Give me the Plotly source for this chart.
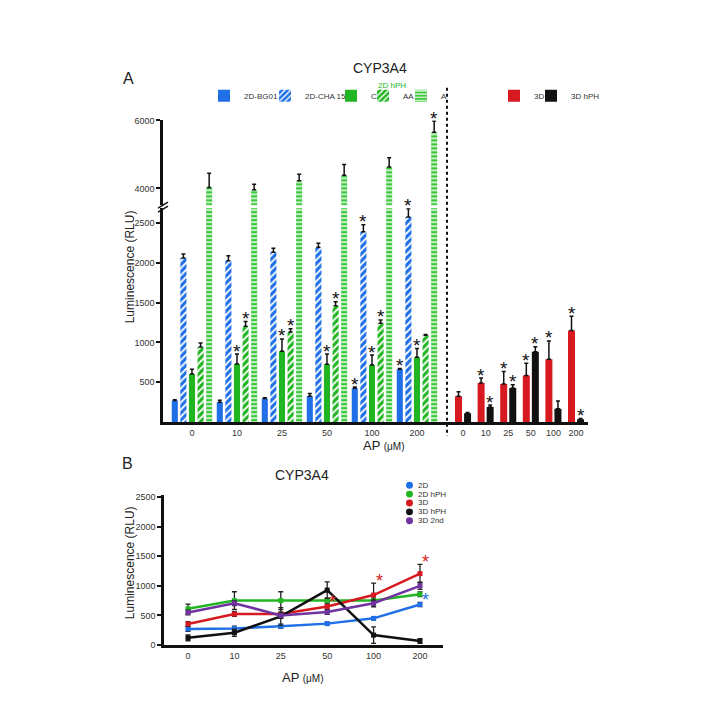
import plotly.graph_objects as go

W = 720.0
def px(x):
    return x / W
def py(y):
    return 1 - y / W

FONT = "Arial, Liberation Sans, sans-serif"
doses = ["0", "10", "25", "50", "100", "200"]

# ---------- Panel A : 2D cultures ----------
bg01 = [270, 251, 297, 326, 425, 664]
bg01_err = [10, 25, 8, 33, 15, 8]
bg01_sig = [0, 0, 0, 0, 1, 1]
cha15 = [2060, 2026, 2133, 2194, 2389, 2574]
cha15_err = [50, 62, 49, 50, 90, 103]
cha15_sig = [0, 0, 0, 0, 1, 1]
hph_c = [603, 730, 891, 726, 718, 813]
hph_c_err = [62, 124, 153, 128, 124, 111]
hph_c_sig = [0, 1, 1, 1, 1, 1]
hph_aa = [944, 1204, 1130, 1460, 1242, 1089]
hph_aa_err = [50, 58, 42, 50, 41, 10]
hph_aa_sig = [0, 1, 1, 1, 1, 0]
hph_a = [4030, 3962, 4223, 4386, 4629, 5652]
hph_a_err = [414, 163, 193, 319, 270, 328]
hph_a_sig = [0, 0, 0, 0, 0, 1]

# ---------- Panel A : 3D cultures ----------
d3 = [326, 491, 479, 586, 788, 1151]
d3_err = [54, 62, 156, 153, 231, 177]
d3_sig = [0, 1, 1, 1, 1, 1]
d3hph = [111, 190, 429, 883, 169, 37]
d3hph_err = [10, 24, 41, 62, 95, 10]
d3hph_sig = [0, 1, 1, 1, 0, 1]

# ---------- Panel B ----------
b_2d = [272, 278, 317, 361, 450, 683]
b_2d_err = [40, 40, 35, 25, 25, 35]
b_2dhph = [611, 750, 750, 750, 750, 856]
b_2dhph_err = [80, 150, 150, 40, 40, 40]
b_3d = [356, 522, 522, 650, 844, 1206]
b_3d_err = [40, 40, 30, 40, 200, 155]
b_3dhph = [122, 206, 483, 928, 167, 67]
b_3dhph_err = [50, 60, 150, 140, 140, 40]
b_3d2nd = [550, 706, 500, 556, 706, 1000]
b_3d2nd_err = [40, 40, 50, 40, 50, 60]
b_sig = {"2D": [0, 0, 0, 0, 0, 1], "3D": [0, 0, 0, 1, 1, 1]}

BLUE = "#1f6fe6"
GREEN = "#22b522"
LGREEN = "#3cc83c"
RED = "#d71920"
BLACK = "#111111"
PURPLE = "#7033a0"

fig = go.Figure()
annotations = []
legend_layout = {}

def add_legend(idx, x_sym):
    key = "legend" if idx == 1 else "legend%d" % idx
    legend_layout[key] = dict(orientation="h", x=px(x_sym - 20), y=py(92),
                              xanchor="left", yanchor="middle",
                              font=dict(size=8, color="#333", family=FONT),
                              bgcolor="rgba(0,0,0,0)", borderwidth=0)
    return key

# left group: 5 bars
left_series = [
    ("2D-BG01", bg01, bg01_err, bg01_sig, BLUE, "", 224),
    ("2D-CHA 15", cha15, cha15_err, cha15_sig, BLUE, "/", 285),
    ("C", hph_c, hph_c_err, hph_c_sig, GREEN, "", 351),
    ("AA", hph_aa, hph_aa_err, hph_aa_sig, GREEN, "/", 383),
    ("A", hph_a, hph_a_err, hph_a_sig, LGREEN, "-", 421),
]
LW = 0.135
LP = 0.191
LOWER_MAX = 2686
for k, (name, vals, errs, sig, col, pat, lx) in enumerate(left_series):
    center = (k - 2) * LP
    lg = add_legend(k + 1, lx)
    for yax, show in (("y", True), ("y3", False)):
        marker = dict(color=col, line=dict(width=0))
        if pat:
            marker["pattern"] = dict(shape=pat, fgcolor="white", bgcolor=col,
                                     size=5 if pat == "/" else 4, solidity=0.35,
                                     fillmode="replace")
        fig.add_trace(go.Bar(
            x=doses, y=vals, name=name, xaxis="x", yaxis=yax,
            width=LW, offset=center - LW / 2, marker=marker,
            error_y=dict(type="data", array=errs, arrayminus=[0] * len(errs),
                         symmetric=False, color=BLACK, thickness=1.5, width=2),
            showlegend=show, legend=lg,
        ))
    for i, s in enumerate(sig):
        if s:
            top = vals[i] + errs[i]
            annotations.append(dict(
                x=i + center, y=top, xref="x", yref="y" if top < LOWER_MAX else "y3",
                text="*", showarrow=False, xanchor="center", yanchor="middle", yshift=3,
                font=dict(size=19, color=BLACK, family=FONT)))

# right group: 3D
right_series = [
    ("3D", d3, d3_err, d3_sig, RED, 514),
    ("3D hPH", d3hph, d3hph_err, d3hph_sig, BLACK, 551),
]
RW = 0.31
for k, (name, vals, errs, sig, col, lx) in enumerate(right_series):
    center = (-0.2, 0.2)[k]
    lg = add_legend(6 + k, lx)
    fig.add_trace(go.Bar(
        x=doses, y=vals, name=name, xaxis="x2", yaxis="y",
        width=RW, offset=center - RW / 2, marker=dict(color=col, line=dict(width=0)),
        error_y=dict(type="data", array=errs, arrayminus=[0] * len(errs),
                     symmetric=False, color=BLACK, thickness=1.5, width=2),
        legend=lg,
    ))
    for i, s in enumerate(sig):
        if s:
            annotations.append(dict(
                x=i + center, y=vals[i] + errs[i], xref="x2", yref="y",
                text="*", showarrow=False, xanchor="center", yanchor="middle", yshift=3,
                font=dict(size=19, color=BLACK, family=FONT)))

# Panel B lines
b_series = [
    ("2D", b_2d, b_2d_err, BLUE),
    ("2D hPH", b_2dhph, b_2dhph_err, GREEN),
    ("3D", b_3d, b_3d_err, RED),
    ("3D hPH", b_3dhph, b_3dhph_err, BLACK),
    ("3D 2nd", b_3d2nd, b_3d2nd_err, PURPLE),
]
for name, vals, errs, col in b_series:
    fig.add_trace(go.Scatter(
        x=doses, y=vals, name=name, xaxis="x4", yaxis="y4", mode="lines+markers",
        line=dict(color=col, width=2.5), marker=dict(symbol="square", size=5, color=col),
        error_y=dict(type="data", array=errs, color="#222222", thickness=1.3, width=2.5),
        showlegend=False,
    ))
for name, vals, errs, col in b_series:
    if name in b_sig:
        for i, s in enumerate(b_sig[name]):
            if s:
                annotations.append(dict(
                    x=i + 0.12, y=vals[i] + errs[i], xref="x4", yref="y4",
                    text="*", showarrow=False, xanchor="center", yanchor="middle", yshift=2,
                    font=dict(size=18, color=col, family=FONT)))

# manual legend for panel B
shapes = []
for j, (name, vals, errs, col) in enumerate(b_series):
    yy = 487 + j * 9
    shapes.append(dict(type="circle", xref="paper", yref="paper",
                       x0=px(406), x1=px(413), y0=py(yy + 3.5), y1=py(yy - 3.5),
                       fillcolor=col, line=dict(width=0)))
    annotations.append(dict(x=px(416), y=py(yy), xref="paper", yref="paper", text=name,
                            showarrow=False, xanchor="left", yanchor="middle",
                            font=dict(size=8, color="#333", family=FONT)))

# break marks, dashed separator
shapes += [
    dict(type="line", xref="paper", yref="paper", x0=px(158), x1=px(168),
         y0=py(206), y1=py(200), line=dict(color=BLACK, width=1.5)),
    dict(type="line", xref="paper", yref="paper", x0=px(158), x1=px(168),
         y0=py(210), y1=py(204), line=dict(color=BLACK, width=1.5)),
    dict(type="line", xref="paper", yref="paper", x0=px(447), x1=px(447),
         y0=py(84), y1=py(437), line=dict(color=BLACK, width=2, dash="dot")),
]

def txt(t, x, y, s, color="#222", **k):
    return dict(text=t, x=px(x), y=py(y), xref="paper", yref="paper",
                xanchor="center", yanchor="middle", showarrow=False,
                font=dict(size=s, color=color, family=FONT), **k)

annotations += [
    txt("A", 128, 75, 16),
    txt("CYP3A4", 380, 64, 14),
    txt("2D hPH", 392, 82, 8, color=GREEN),
    txt("Luminescence (RLU)", 130, 266, 12, textangle=-90),
    txt("AP <span style='font-size:10px'>(μM)</span>", 383, 447, 13),
    txt("B", 127, 465, 16),
    txt("CYP3A4", 302, 477, 14),
    txt("Luminescence (RLU)", 130, 566, 12, textangle=-90),
    txt("AP <span style='font-size:10px'>(μM)</span>", 302, 682, 13),
]

axis_common = dict(showline=True, linecolor=BLACK, linewidth=2.5, showgrid=False,
                   zeroline=False, tickfont=dict(size=9, color="#333", family=FONT))
fig.update_layout(
    width=720, height=720, margin=dict(l=0, r=0, t=0, b=0),
    paper_bgcolor="white", plot_bgcolor="rgba(0,0,0,0)",
    font=dict(family=FONT), barmode="overlay",
    xaxis=dict(domain=[px(163), px(447)], anchor="y", type="category",
               range=[-0.644, 5.667], ticks="", **axis_common),
    xaxis2=dict(domain=[px(447), px(588)], anchor="y", type="category",
                range=[-0.71, 5.53], ticks="", **axis_common),
    yaxis=dict(domain=[py(423), py(206)], anchor="x", range=[0, LOWER_MAX],
               tickvals=[500, 1000, 1500, 2000, 2500], ticks="outside", ticklen=4,
               tickwidth=1.5, tickcolor=BLACK, **axis_common),
    yaxis3=dict(domain=[py(203), py(117)], anchor="x", range=[3507, 6000],
                tickvals=[4000, 6000], ticks="outside", ticklen=4,
                tickwidth=1.5, tickcolor=BLACK, **axis_common),
    xaxis4=dict(domain=[px(164), px(443)], anchor="y4", type="category",
                range=[-0.517, 5.496], ticks="", **axis_common),
    yaxis4=dict(domain=[py(649), py(497)], anchor="x4", range=[0, 2533],
                tickvals=[0, 500, 1000, 1500, 2000, 2500], ticks="outside", ticklen=4,
                tickwidth=1.5, tickcolor=BLACK, **axis_common),
    annotations=annotations,
    shapes=shapes,
    **legend_layout,
)

fig.write_html("out.html")
